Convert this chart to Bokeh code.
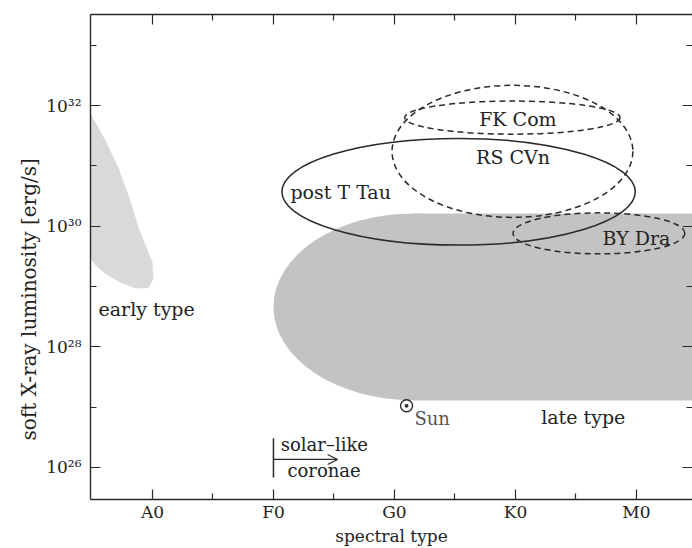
import numpy as np
from bokeh.plotting import figure
from bokeh.models import (FixedTicker, LinearAxis, Range1d, Title, Arrow, OpenHead)
from bokeh.core.properties import value
from bokeh.embed import file_html
from bokeh.resources import INLINE

FONT = "DejaVu Serif"

# ---- axes: spectral index (A0=0, F0=1, G0=2, K0=3, M0=4), log10 Lx ----
spectral_ticks = [0, 1, 2, 3, 4]
spectral_labels = ["A0", "F0", "G0", "K0", "M0"]
spectral_minor = [0.5, 1.5, 2.5, 3.5]
lum_ticks = [26, 28, 30, 32]
lum_labels = ["10²⁶", "10²⁸", "10³⁰", "10³²"]
lum_minor = [27, 29, 31, 33]

# ---- early type region outline (spectral index, log Lx) ----
early_x = [-0.512, -0.388, -0.281, -0.182, -0.116, -0.050, 0.0, 0.008,
           -0.033, -0.140, -0.264, -0.388, -0.471, -0.512]
early_y = [31.87, 31.42, 30.97, 30.42, 29.98, 29.65, 29.40, 29.13,
           28.97, 28.97, 29.06, 29.21, 29.35, 29.46]

# ---- late type region: rounded left end + band to the right ----
late_center = [2.157, 28.66]
late_size = [2.314, 3.10]
late_x_end = 4.6

# ---- activity classes (ellipses) ----
class_names = ["post T Tau", "RS CVn", "FK Com", "BY Dra"]
class_cx = [2.53, 2.975, 2.975, 3.69]
class_cy = [30.57, 31.24, 31.80, 29.88]
class_w = [2.92, 1.99, 1.78, 1.42]
class_h = [1.77, 2.19, 0.55, 0.68]
class_solid = [True, False, False, False]
class_label_x = [1.14, 2.98, 3.02, 4.00]
class_label_y = [30.56, 31.14, 31.77, 29.81]
class_label_align = ["left", "center", "center", "center"]

# ---- Sun ----
sun_x, sun_y = [2.10], [27.02]

# ---- solar-like coronae marker ----
onset_x = 1.0
onset_y = [25.83, 26.48]
arrow_y = 26.13
arrow_x_end = 1.53

x0, x1 = -0.512, 4.463
y0, y1 = 25.466, 33.51

p = figure(width=692, height=548, x_range=Range1d(x0, x1), y_range=Range1d(y0, y1),
           output_backend="svg", toolbar_location=None,
           min_border_left=90, min_border_right=0, min_border_top=14, min_border_bottom=49)
p.xgrid.visible = False
p.ygrid.visible = False
p.outline_line_color = None
p.background_fill_color = "white"

LINE = "#2a2a2a"
TXT = "#222222"

def style_axis(ax, ticks, minor, overrides, show_labels, fs="17px"):
    ax.ticker = FixedTicker(ticks=ticks, minor_ticks=minor)
    ax.major_tick_in = 10
    ax.major_tick_out = 0
    ax.minor_tick_in = 6
    ax.minor_tick_out = 0
    ax.major_tick_line_color = LINE
    ax.minor_tick_line_color = LINE
    ax.major_tick_line_width = 1.2
    ax.minor_tick_line_width = 1.2
    ax.axis_line_color = LINE
    ax.axis_line_width = 1.4
    ax.major_label_text_font = FONT
    ax.major_label_text_font_size = fs
    ax.major_label_text_color = TXT
    if show_labels:
        ax.major_label_overrides = overrides
    else:
        ax.major_label_overrides = {t: "" for t in ticks}
        ax.major_label_standoff = 0

xo = {t: l for t, l in zip(spectral_ticks, spectral_labels)}
yo = {t: l for t, l in zip(lum_ticks, lum_labels)}

style_axis(p.xaxis[0], spectral_ticks, spectral_minor, xo, True)
p.xaxis[0].major_label_standoff = 2
p.xaxis[0].axis_label = "spectral type"
p.xaxis[0].axis_label_text_font = FONT
p.xaxis[0].axis_label_text_font_size = "17px"
p.xaxis[0].axis_label_text_font_style = "normal"
p.xaxis[0].axis_label_text_color = TXT
p.xaxis[0].axis_label_standoff = 1

style_axis(p.yaxis[0], lum_ticks, lum_minor, yo, True)
p.yaxis[0].major_label_standoff = 9

top = LinearAxis()
style_axis(top, spectral_ticks, spectral_minor, xo, False)
p.add_layout(top, "above")
right = LinearAxis()
style_axis(right, lum_ticks, lum_minor, yo, False)
right.axis_line_color = None
p.add_layout(right, "right")

# y-axis title (placed as a side title so it can sit below the frame centre like the original)
p.add_layout(Title(text="soft X-ray luminosity [erg/s]", align="left", offset=59,
                   text_font=FONT, text_font_size="20px", text_font_style="normal",
                   text_color=TXT, standoff=6), "left")

# regions
p.patch(early_x, early_y, fill_color="#d9d9d9", line_color=None)
p.ellipse(x=[late_center[0]], y=[late_center[1]], width=[late_size[0]], height=[late_size[1]],
          fill_color="#c3c3c3", line_color=None)
p.quad(left=[late_center[0]], right=[late_x_end],
       bottom=[late_center[1] - late_size[1] / 2], top=[late_center[1] + late_size[1] / 2],
       fill_color="#c3c3c3", line_color=None)

# class ellipses
for cx, cy, w, h, solid in zip(class_cx, class_cy, class_w, class_h, class_solid):
    p.ellipse(x=[cx], y=[cy], width=[w], height=[h], fill_color=None,
              line_color=LINE, line_width=1.5, line_dash="solid" if solid else "6 4")

for name, lx, ly, al in zip(class_names, class_label_x, class_label_y, class_label_align):
    p.text(x=[lx], y=[ly], text=[name], text_font=value(FONT), text_font_size="19px",
           text_align=al, text_baseline="middle", text_color=TXT)

# region labels
p.text(x=[-0.446], y=[28.63], text=["early type"], text_font=value(FONT), text_font_size="19px",
       text_align="left", text_baseline="middle", text_color=TXT)
p.text(x=[3.56], y=[26.84], text=["late type"], text_font=value(FONT), text_font_size="19px",
       text_align="center", text_baseline="middle", text_color=TXT)

# Sun
p.scatter(sun_x, sun_y, marker="circle", size=12, fill_color=None, line_color=LINE, line_width=1.4)
p.scatter(sun_x, sun_y, marker="circle", size=3, fill_color=LINE, line_color=LINE)
p.text(x=[2.165], y=[26.81], text=["Sun"], text_font=value(FONT), text_font_size="18px",
       text_align="left", text_baseline="middle", text_color="#555555")

# solar-like coronae onset
p.segment(x0=[onset_x], y0=[onset_y[0]], x1=[onset_x], y1=[onset_y[1]], line_color=LINE, line_width=1.5)
p.add_layout(Arrow(end=OpenHead(size=10, line_width=1.3, line_color=LINE),
                   x_start=onset_x, y_start=arrow_y, x_end=arrow_x_end, y_end=arrow_y,
                   line_width=1.3, line_color=LINE))
p.text(x=[1.06], y=[26.38], text=["solar–like"], text_font=value(FONT), text_font_size="18px",
       text_align="left", text_baseline="middle", text_color=TXT)
p.text(x=[1.115], y=[25.95], text=["coronae"], text_font=value(FONT), text_font_size="18px",
       text_align="left", text_baseline="middle", text_color=TXT)

open("out.html", "w").write(file_html(p, INLINE))
